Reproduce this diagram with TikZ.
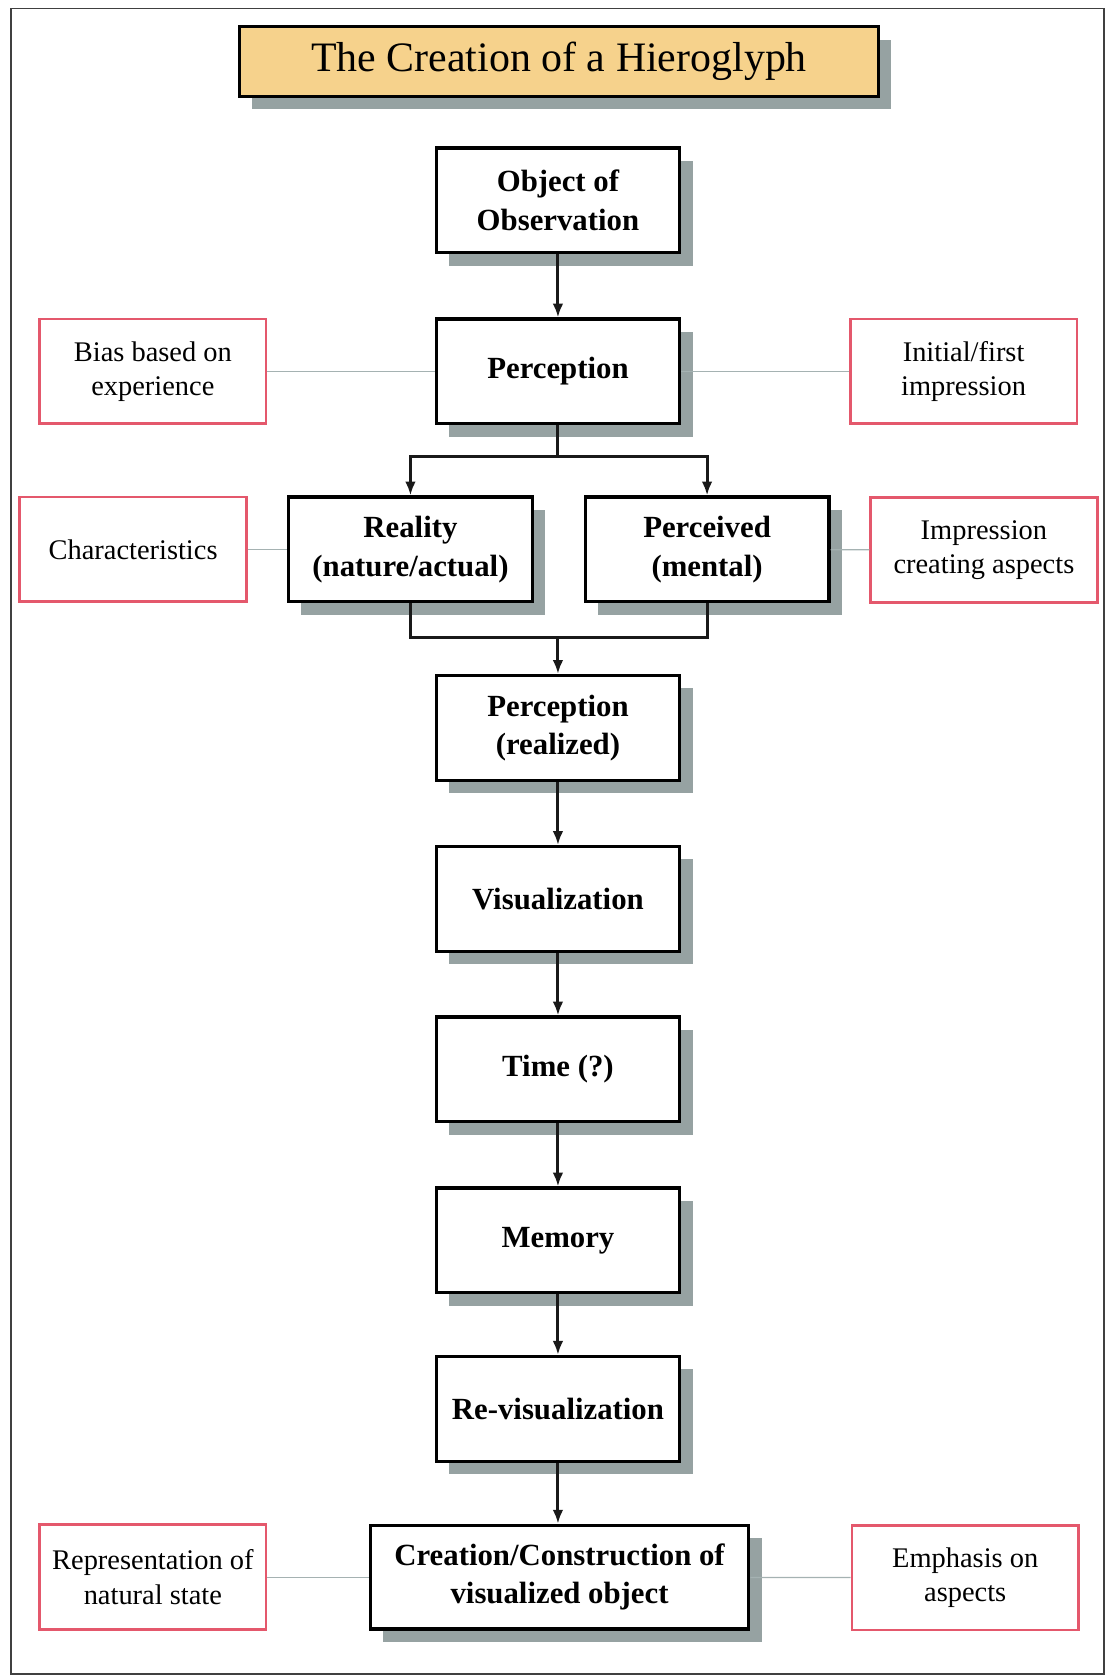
\documentclass[tikz,border=0pt]{standalone}
\usepackage{fontspec}
\setmainfont{Liberation Serif}
\usetikzlibrary{arrows.meta, shadows}

\definecolor{shadowgray}{RGB}{150,162,162}
\definecolor{titlefill}{RGB}{246,210,140}
\definecolor{notered}{RGB}{228,88,108}
\definecolor{linkgray}{RGB}{165,178,178}

\begin{document}
\begin{tikzpicture}[
  x=0.5pt, y=-0.5pt,
  flowbox/.style={
    rectangle, draw=black, line width=1.5pt, fill=white, align=center,
    minimum width=114pt, minimum height=49pt, inner sep=2pt,
    font=\fontsize{14.4}{18}\selectfont\bfseries,
    drop shadow={shadow xshift=6pt, shadow yshift=-6pt, fill=shadowgray, opacity=1}
  },
  notebox/.style={
    rectangle, draw=notered, line width=1.25pt, fill=white, align=center,
    minimum width=106pt, minimum height=49pt, inner sep=2pt,
    font=\fontsize{13.3}{16}\selectfont
  },
  titlebox/.style={
    rectangle, draw=black, line width=1.5pt, fill=titlefill, align=center,
    minimum width=299pt, minimum height=32.5pt, inner sep=2pt,
    font=\fontsize{19.6}{23}\selectfont,
    drop shadow={shadow xshift=6pt, shadow yshift=-6pt, fill=shadowgray, opacity=1}
  },
  flow/.style={-{Latex[length=6.5pt, width=5pt]}, line width=1.4pt, draw=black!90},
  bar/.style={-, line width=1.4pt, draw=black!90},
  link/.style={-, line width=0.6pt, draw=linkgray}
]

% ----------------- FRAME -----------------
\useasboundingbox (0,0) rectangle (1036,1568);
\draw[line width=0.8pt, draw=black!75] (10,8) rectangle (1033,1566);

% ----------------- TITLE -----------------
\node[titlebox] (title) at (523, 57.5) {The Creation of a Hieroglyph};

% ----------------- MAIN FLOW -----------------
\node[flowbox] (obs)   at (522, 187.5) {Object of\\Observation};
\node[flowbox] (perc)  at (522, 347.5) {Perception};
\node[flowbox] (real)  at (384, 514)   {Reality\\(nature/actual)};
\node[flowbox] (percd) at (661.5, 514) {Perceived\\(mental)};
\node[flowbox] (realz) at (522, 681)   {Perception\\(realized)};
\node[flowbox] (vis)   at (522, 841)   {Visualization};
\node[flowbox] (time)  at (522, 1000.5) {Time (?)};
\node[flowbox] (mem)   at (522, 1160.5) {Memory};
\node[flowbox] (revis) at (522, 1318)  {Re-visualization};
\node[flowbox, minimum width=177pt, minimum height=48.5pt] (create) at (523.5, 1475.5) {Creation/Construction of\\visualized object};

% ----------------- SIDE NOTES -----------------
\node[notebox] (bias)  at (143, 347.5)   {Bias based on\\experience};
\node[notebox] (init)  at (901.5, 347.5) {Initial/first\\impression};
\node[notebox] (chars) at (124.5, 514)   {Characteristics};
\node[notebox] (impr)  at (920.5, 514.5) {Impression\\creating aspects};
\node[notebox] (repr)  at (143, 1475.5)  {Representation of\\natural state};
\node[notebox] (emph)  at (903, 1476)    {Emphasis on\\aspects};

% ----------------- CONNECTORS -----------------
\coordinate (split) at (522, 427);
\coordinate (join)  at (522, 596);

\draw[flow] (obs) -- (perc);
\draw[bar]  (perc) -- (split);
\draw[flow] (split) -| (real.north);
\draw[flow] (split) -| (percd.north);
\draw[bar]  (real.south) |- (join);
\draw[bar]  (percd.south) |- (join);
\draw[flow] (join) -- (realz.north);
\draw[flow] (realz) -- (vis);
\draw[flow] (vis) -- (time);
\draw[flow] (time) -- (mem);
\draw[flow] (mem) -- (revis);
\draw[flow] (revis.south) -- (revis.south |- create.north);

% side links
\draw[link] (bias) -- (perc);
\draw[link] (perc) -- (init);
\draw[link] (chars) -- (real);
\draw[link] (percd) -- (impr);
\draw[link] (repr) -- (create);
\draw[link] (create) -- (emph);

\end{tikzpicture}
\end{document}
